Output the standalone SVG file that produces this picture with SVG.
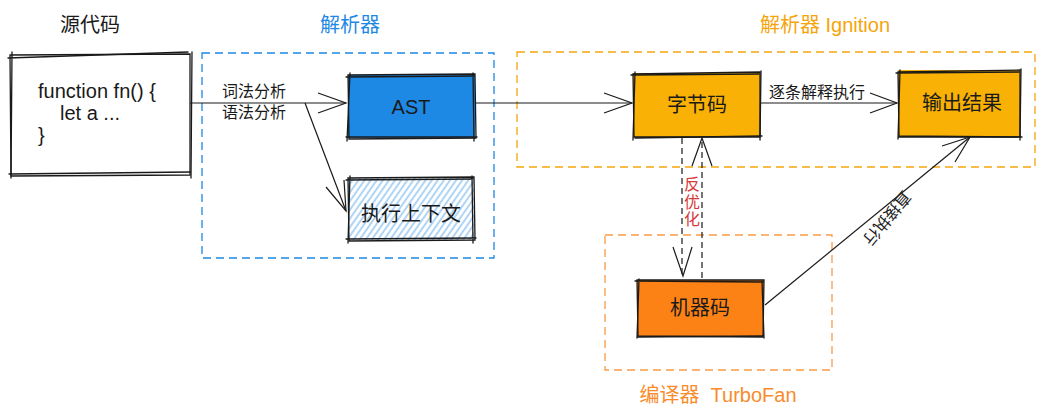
<svg xmlns="http://www.w3.org/2000/svg" width="1056" height="418" viewBox="0 0 1056 418">
<defs>
<style>
text{font-family:"Liberation Sans","Noto Sans CJK SC",sans-serif;fill:#1a1a1a}
.t{font-size:20px;text-anchor:middle;dominant-baseline:central}
.code{font-size:20px}
.lbl{font-size:16px}
.title{font-size:20px;text-anchor:middle}
.sk{fill:none;stroke:#1a1a1a;stroke-width:1.3;stroke-linecap:round}
.ln{fill:none;stroke:#1a1a1a;stroke-width:1.2}
.dash{fill:none;stroke:#1a1a1a;stroke-width:1.2;stroke-dasharray:6 4}
.grp{fill:none;stroke-width:1.3;stroke-dasharray:8 5}
</style>
<pattern id="hatch" width="5" height="5" patternUnits="userSpaceOnUse" patternTransform="rotate(35)">
<line x1="2" y1="0" x2="2" y2="5" stroke="#7ab8ee" stroke-width="1.2"/>
</pattern>
</defs>

<g id="group-parser">
<rect x="202" y="53" width="292" height="205" class="grp" stroke="#1e88e5"/>
<text x="350" y="32" class="title" style="fill:#1e88e5">解析器</text>
</g>
<g id="group-ignition">
<rect x="517" y="52" width="518" height="115" class="grp" stroke="#f5a50b"/>
<text x="825" y="32" class="title" style="fill:#f5a50b">解析器 Ignition</text>
</g>
<g id="group-turbofan">
<rect x="605" y="235" width="227" height="135" class="grp" stroke="#fb9a45"/>
<text x="718" y="402" class="title" style="fill:#f98b2b">编译器&#160; TurboFan</text>
</g>

<g id="source">
<text x="90" y="32" class="title">源代码</text>
<path class="sk" d="M10 55 L190 54 L190 175 L11 176 Z"/>
<path class="sk" d="M8 58 L188 52 M192 52 L191 178 M190 172 L9 174 M12 52 L11 178"/>
<text x="38" y="98" class="code">function fn() {</text>
<text x="60" y="120" class="code">let a ...</text>
<text x="38" y="142" class="code">}</text>
</g>

<g id="ast">
<rect x="348" y="75" width="127" height="63" fill="#1e88e5"/>
<path class="sk" d="M348 75 L475 74 L476 138 L349 139 Z"/>
<path class="sk" d="M346 77 L474 76 M473 73 L474 141 M477 137 L346 137 M350 73 L347 141"/>
<text x="411" y="107" class="t">AST</text>
</g>

<g id="context">
<rect x="348" y="178" width="126" height="62" fill="url(#hatch)"/>
<path class="sk" d="M348 178 L474 177 L475 240 L349 241 Z"/>
<path class="sk" d="M346 180 L473 179 M472 176 L473 243 M476 238 L346 239 M350 176 L348 243"/>
<text x="411" y="214" class="t">执行上下文</text>
</g>

<g id="bytecode">
<rect x="633" y="73" width="127" height="64" fill="#f8b104"/>
<path class="sk" d="M633 74 L760 72 L760 137 L634 137 Z"/>
<path class="sk" d="M631 75 L759 74 M761 71 L760 140 M762 136 L635 138 M635 72 L633 140"/>
<text x="697" y="105" class="t">字节码</text>
</g>

<g id="output">
<rect x="898" y="70" width="122" height="67" fill="#f8b104"/>
<path class="sk" d="M898 72 L1020 70 L1020 137 L899 136 Z"/>
<path class="sk" d="M896 73 L1019 72 M1021 69 L1020 140 M1022 137 L898 137 M900 70 L898 139"/>
<text x="962" y="103" class="t">输出结果</text>
</g>

<g id="machinecode">
<rect x="637" y="280" width="127" height="57" fill="#fd8216"/>
<path class="sk" d="M637 280 L764 280 L763 337 L638 336 Z"/>
<path class="sk" d="M635 281 L763 282 M762 281 L764 338 M763 336 L637 337 M639 279 L637 338"/>
<text x="700" y="308" class="t">机器码</text>
</g>

<g id="connectors">
<path class="ln" d="M190 103 L346 103"/>
<path class="ln" d="M318 93 L346 103 L318 113"/>
<text x="222" y="97" class="lbl">词法分析</text>
<text x="222" y="118" class="lbl">语法分析</text>

<path class="ln" d="M305 103 L346 211"/>
<path class="ln" d="M326 187 L346 211 L344 180"/>

<path class="ln" d="M475 103 L632 103"/>
<path class="ln" d="M604 93 L632 103 L604 113"/>

<path class="ln" d="M760 103 L897 103"/>
<path class="ln" d="M870 93 L897 103 L870 113"/>
<text x="769" y="98" class="lbl">逐条解释执行</text>

<path class="dash" d="M682 138 L682 275"/>
<path class="ln" d="M673 247 L683 276 L692 247"/>
<path class="dash" d="M702 278 L702 139"/>
<path class="ln" d="M692 166 L702 138 L712 166"/>
<text x="692" y="190" style="font-size:16px;fill:#d43a3a;text-anchor:middle">反</text>
<text x="692" y="208" style="font-size:16px;fill:#d43a3a;text-anchor:middle">优</text>
<text x="692" y="225" style="font-size:16px;fill:#d43a3a;text-anchor:middle">化</text>

<path class="ln" d="M765 305 L970 137"/>
<path class="ln" d="M942 146 L970 137 L955 162"/>
<text transform="translate(887,218) rotate(130)" style="font-size:16px;text-anchor:middle;dominant-baseline:central">直接执行</text>
</g>
</svg>
